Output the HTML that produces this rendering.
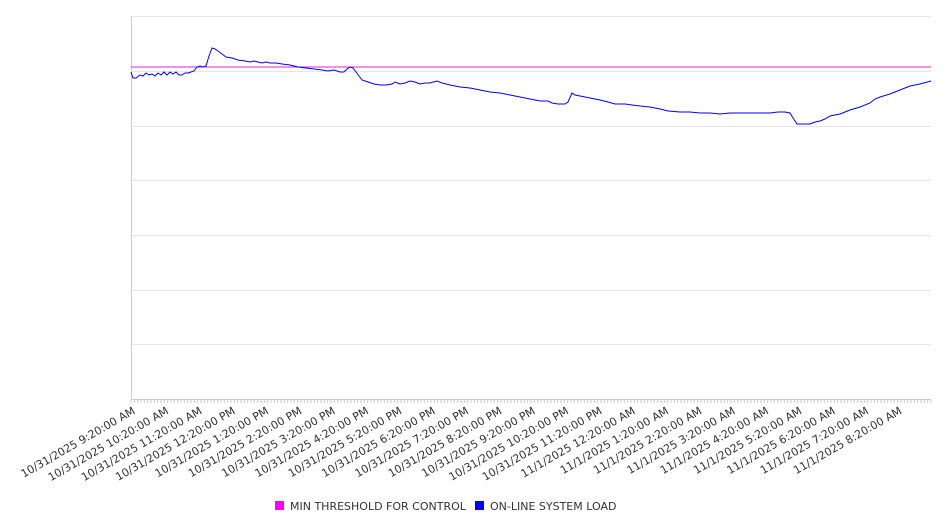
<!DOCTYPE html>
<html><head><meta charset="utf-8"><style>
html,body{margin:0;padding:0;background:#fff;}
svg{display:block;font-family:"DejaVu Sans","Liberation Sans",sans-serif;}
</style></head><body>
<svg width="946" height="526" viewBox="0 0 946 526" xmlns="http://www.w3.org/2000/svg">
<g stroke="#e6e6e6" stroke-width="1">
<line x1="131" y1="16.5" x2="931" y2="16.5"/>
<line x1="131" y1="71.5" x2="931" y2="71.5"/>
<line x1="131" y1="126.5" x2="931" y2="126.5"/>
<line x1="131" y1="180.5" x2="931" y2="180.5"/>
<line x1="131" y1="235.5" x2="931" y2="235.5"/>
<line x1="131" y1="290.5" x2="931" y2="290.5"/>
<line x1="131" y1="344.5" x2="931" y2="344.5"/>
</g>
<line x1="131.5" y1="16" x2="131.5" y2="400" stroke="#ccc"/>
<line x1="131" y1="399.5" x2="931" y2="399.5" stroke="#ccc"/>
<g id="ticks" stroke="#ccc"></g>
<line x1="131" y1="67" x2="931" y2="67" stroke="#e020e0" stroke-width="1"/>
<polyline fill="none" stroke="#0000ff" stroke-width="1" points="131,72 133,78 136,78 140,75 143,76 146,73 149,75 152,74 155,76 158,73 161,75 164,72 167,75 170,72 173,74 176,72 179,75 182,75 185,73 188,73 191,72 194,71 197,67 200,66 203,67 206,66 209,56 212,48 215,49 218,51 222,54 226,57 232,58 238,60 245,61 250,62 254,61 258,62 262,63 266,62 270,63 276,63 282,64 290,65 298,67 306,68 314,69 322,70 328,71 334,70 340,72 344,72 347,69 350,67 353,68 356,72 359,76 362,80 368,82 374,84 380,85 386,85 392,84 395,82 400,84 405,83 410,81 415,82 420,84 425,83 430,83 437,81 442,83 450,85 460,87 470,88 480,90 490,92 500,93 510,95 520,97 530,99 540,101 548,101 552,103 558,104 565,104 568,102 572,93 575,95 580,96 590,98 600,100 608,102 615,104 625,104 632,105 640,106 650,107 660,109 668,111 680,112 690,112 700,113 710,113 720,114 730,113 740,113 750,113 760,113 770,113 778,112 785,112 790,113 793,118 797,124 803,124 810,124 815,122 820,121 825,119 830,116 840,114 850,110 860,107 870,103 875,99 880,97 890,94 900,90 910,86 920,84 931,81"/>
<g id="labels" font-size="11" fill="#333"></g>
<rect x="275" y="501" width="9" height="9" fill="#ff00ff"/>
<text x="290" y="510" font-size="11" fill="#333">MIN THRESHOLD FOR CONTROL</text>
<rect x="475" y="501" width="9" height="9" fill="#0000ff"/>
<text x="490" y="510" font-size="11" fill="#333">ON-LINE SYSTEM LOAD</text>
<script>
var t=document.getElementById('ticks'),l=document.getElementById('labels'),ns='http://www.w3.org/2000/svg';
for(var i=0;i<=240;i++){var x=131+i*800/240;var e=document.createElementNS(ns,'line');e.setAttribute('x1',x);e.setAttribute('x2',x);e.setAttribute('y1',400);e.setAttribute('y2',403);t.appendChild(e);}
for(var h=0;h<24;h++){var hr=(9+h)%24;var day=(9+h)>=24?'11/1/2025':'10/31/2025';var ap=hr<12?'AM':'PM';var h12=hr%12;if(h12==0)h12=12;
var s=day+' '+h12+':20:00 '+ap;var x=131+h*800/24+5;var y=413;
var e=document.createElementNS(ns,'text');e.setAttribute('x',x);e.setAttribute('y',y);e.setAttribute('text-anchor','end');e.setAttribute('transform','rotate(-30 '+x+' '+y+')');e.textContent=s;l.appendChild(e);}
</script>
</svg>
</body></html>
